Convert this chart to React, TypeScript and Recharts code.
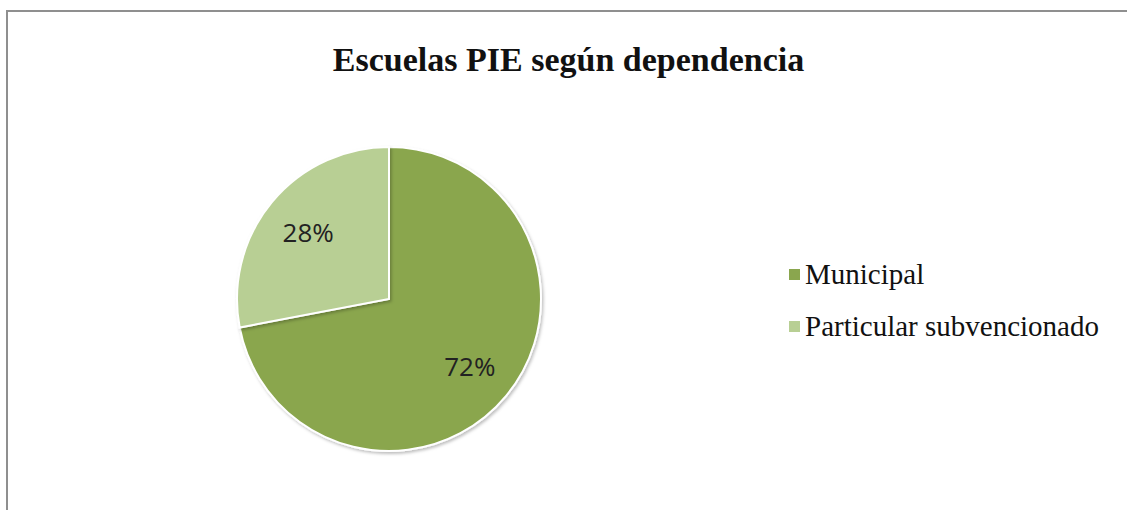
import React from "react";
import { PieChart, Pie, Cell, Legend } from "recharts";

const categories = ["Municipal", "Particular subvencionado"];
const values = [72, 28];
const colors = ["#8AA64E", "#B8CF94"];
const title = "Escuelas PIE según dependencia";

const data = categories.map((name, i) => ({ name, value: values[i] }));

const RAD = Math.PI / 180;
const renderLabel = (props: any) => {
  const { cx, cy, midAngle, outerRadius, percent } = props;
  const r = outerRadius * 0.69;
  const x = cx + r * Math.cos(-midAngle * RAD);
  const y = cy + r * Math.sin(-midAngle * RAD);
  return (
    <text
      x={x}
      y={y}
      fill="#222"
      textAnchor="middle"
      dominantBaseline="central"
      fontFamily="'Open Sans', 'Noto Sans', sans-serif"
      fontSize={26}
    >
      {`${Math.round(percent * 100)}%`}
    </text>
  );
};

const renderLegend = (props: any) => {
  const { payload } = props;
  return (
    <div>
      {payload.map((entry: any, i: number) => (
        <div
          key={i}
          style={{
            display: "flex",
            alignItems: "center",
            height: 26,
            marginBottom: i === 0 ? 26 : 0,
            fontFamily: "'Liberation Serif', 'DejaVu Serif', serif",
            fontSize: 29,
            color: "#111",
          }}
        >
          <span
            style={{
              display: "inline-block",
              width: 11,
              height: 11,
              background: entry.color,
              marginRight: 5,
            }}
          />
          <span>{entry.value}</span>
        </div>
      ))}
    </div>
  );
};

export default function App() {
  return (
    <div
      style={{
        position: "absolute",
        left: 0,
        top: 0,
        width: 1127,
        height: 510,
        background: "#fff",
        overflow: "hidden",
      }}
    >
      <div
        style={{
          position: "absolute",
          left: 6,
          top: 10,
          width: 1140,
          height: 520,
          borderTop: "2px solid #8f8f8f",
          borderLeft: "2px solid #8f8f8f",
        }}
      />
      <div
        style={{
          position: "absolute",
          left: 0,
          top: 41,
          width: 1137,
          textAlign: "center",
          fontFamily: "'Liberation Serif', 'DejaVu Serif', serif",
          fontWeight: "bold",
          fontSize: 34,
          color: "#111",
        }}
      >
        {title}
      </div>
      <div style={{ position: "absolute", left: 0, top: 0 }}>
        <PieChart width={1127} height={510}>
          <defs>
            <filter id="pieShadow" x="-10%" y="-10%" width="120%" height="120%">
              <feDropShadow dx="1.5" dy="2" stdDeviation="1.5" floodColor="#000" floodOpacity="0.25" />
            </filter>
          </defs>
          <Pie
            data={data}
            dataKey="value"
            nameKey="name"
            cx={384}
            cy={294}
            outerRadius={152}
            startAngle={90}
            endAngle={-270}
            stroke="#ffffff"
            strokeWidth={2}
            label={renderLabel}
            labelLine={false}
            isAnimationActive={false}
            style={{ filter: "url(#pieShadow)" }}
          >
            {data.map((d, i) => (
              <Cell key={d.name} fill={colors[i]} />
            ))}
          </Pie>
          <Legend
            layout="vertical"
            align="right"
            verticalAlign="top"
            content={renderLegend}
            wrapperStyle={{ left: 789, top: 261, width: 336 }}
          />
        </PieChart>
      </div>
    </div>
  );
}
